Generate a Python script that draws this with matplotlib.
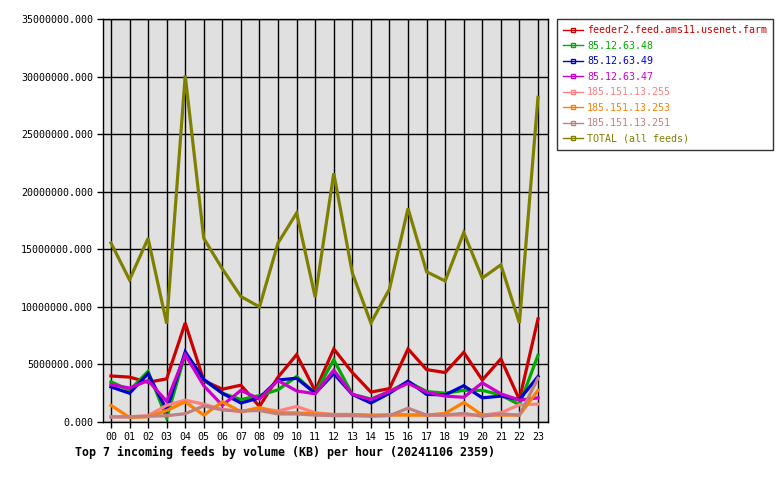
import matplotlib
matplotlib.use("Agg")
import matplotlib.pyplot as plt
from matplotlib.ticker import FuncFormatter, MultipleLocator

hours = ["%02d" % h for h in range(24)]

# values in millions of KB
feeder2 = [4.0, 3.9, 3.45, 3.75, 8.6, 3.6, 2.85, 3.2, 1.35, 3.9, 5.85, 2.7, 6.35, 4.3,
           2.6, 2.9, 6.35, 4.55, 4.3, 6.05, 3.65, 5.48, 1.95, 8.95]
ip_63_48 = [3.5, 2.75, 4.4, 0.35, 5.9, 3.65, 2.5, 1.95, 2.3, 2.8, 3.95, 2.5, 5.4, 2.4,
            2.0, 2.65, 3.5, 2.65, 2.5, 2.75, 2.75, 2.35, 1.5, 5.8]
ip_63_49 = [3.05, 2.5, 4.2, 1.05, 6.1, 3.7, 2.5, 1.65, 2.1, 3.65, 3.8, 2.5, 4.2, 2.4,
            1.65, 2.5, 3.55, 2.4, 2.35, 3.15, 2.1, 2.25, 1.95, 3.95]
ip_63_47 = [3.25, 2.95, 3.6, 1.8, 5.85, 3.15, 1.45, 2.75, 2.0, 3.6, 2.7, 2.45, 4.5, 2.4,
            1.95, 2.65, 3.35, 2.6, 2.25, 2.15, 3.4, 2.45, 1.9, 2.1]
ip_13_255 = [0.45, 0.45, 0.55, 1.45, 1.9, 1.55, 1.1, 0.9, 1.2, 0.95, 1.35, 0.8, 0.65, 0.65,
             0.55, 0.65, 0.65, 0.6, 0.6, 0.6, 0.6, 0.8, 1.5, 1.55]
ip_13_253 = [1.45, 0.4, 0.45, 1.0, 1.75, 0.6, 1.75, 0.9, 1.25, 0.8, 0.8, 0.7, 0.65, 0.65,
             0.6, 0.6, 0.6, 0.6, 0.75, 1.7, 0.6, 0.6, 0.6, 2.75]
ip_13_251 = [0.45, 0.45, 0.5, 0.55, 0.72, 1.4, 1.05, 0.95, 1.0, 0.7, 0.7, 0.6, 0.55, 0.55,
             0.5, 0.55, 1.2, 0.6, 0.6, 0.75, 0.5, 0.7, 0.6, 3.8]
total = [15.55, 12.35, 15.95, 8.55, 30.1, 15.95, 13.3, 10.9, 10.0, 15.55, 18.15, 10.85,
         21.6, 12.95, 8.6, 11.55, 18.55, 13.05, 12.25, 16.45, 12.5, 13.65, 8.6, 28.2]

series = [
    ("feeder2.feed.ams11.usenet.farm", feeder2, "#cc0000"),
    ("85.12.63.48", ip_63_48, "#00aa00"),
    ("85.12.63.49", ip_63_49, "#0000cc"),
    ("85.12.63.47", ip_63_47, "#cc00cc"),
    ("185.151.13.255", ip_13_255, "#ff8080"),
    ("185.151.13.253", ip_13_253, "#ff8000"),
    ("185.151.13.251", ip_13_251, "#c08080"),
    ("TOTAL (all feeds)", total, "#808000"),
]

plt.rcParams['font.family'] = ['DejaVu Sans Mono']

fig = plt.figure(figsize=(7.8, 4.8), dpi=100)
ax = fig.add_axes([0.132, 0.1208, 0.5706, 0.8396])
ax.set_facecolor("#e0e0e0")

x = list(range(24))
for name, vals, col in series:
    ax.plot(x, [v * 1e6 for v in vals], color=col, lw=2.3, solid_joinstyle="miter")

ax.set_xlim(-0.43, 23.54)
ax.set_ylim(0, 35e6)
ax.set_xticks(x)
ax.set_xticklabels(hours, fontsize=7.2)
ax.yaxis.set_major_locator(MultipleLocator(5e6))
ax.yaxis.set_major_formatter(FuncFormatter(lambda v, p: "%.3f" % v))
ax.tick_params(axis="y", labelsize=7.2, length=4, width=1, pad=3)
ax.tick_params(axis="x", length=4, width=1, pad=3)
ax.grid(True, color="black", lw=1)
ax.set_axisbelow(True)
for s in ax.spines.values():
    s.set_linewidth(1)

leg_handles = [plt.Line2D([], [], color=c, lw=1, marker="s", markersize=3,
                          markerfacecolor="none", markeredgecolor=c)
               for _, _, c in series]
leg = fig.legend(leg_handles, [n for n, _, _ in series], loc="upper left",
                 bbox_to_anchor=(0.714, 0.96), fontsize=7.2, frameon=True,
                 fancybox=False, edgecolor="black", handlelength=2.0,
                 handletextpad=0.4, labelspacing=0.55, borderpad=0.6,
                 borderaxespad=0)
leg.get_frame().set_linewidth(1)
for txt, (_, _, c) in zip(leg.get_texts(), series):
    txt.set_color(c)

fig.text(0.096, 0.058, "Top 7 incoming feeds by volume (KB) per hour (20241106 2359)",
         fontsize=8.4, fontweight="bold", va="center", ha="left")

fig.savefig("out.png", dpi=100)
